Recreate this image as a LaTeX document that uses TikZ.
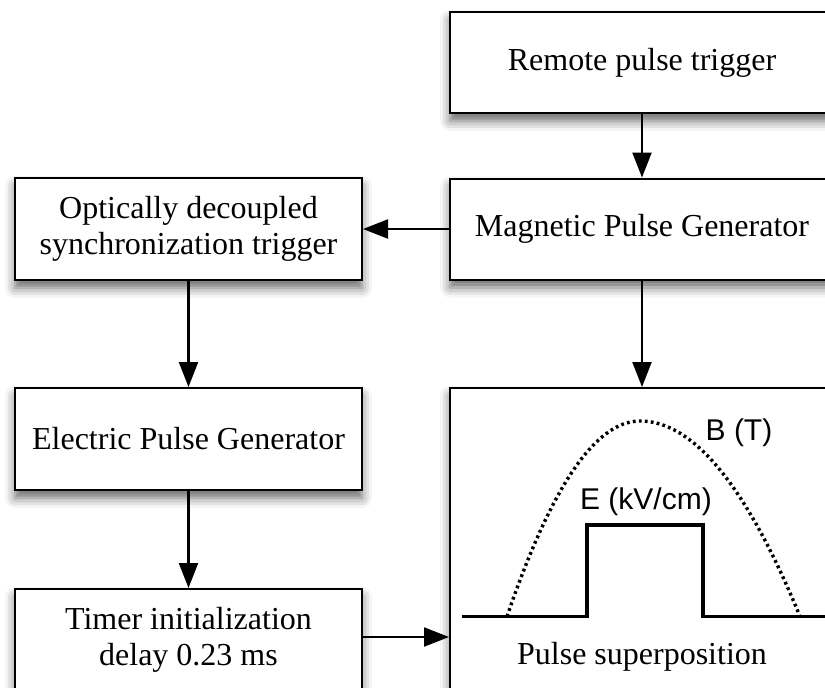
\documentclass[tikz,border=0pt]{standalone}
\usepackage{fontspec}
\setmainfont{Liberation Serif}
\setsansfont{Liberation Sans}
\usetikzlibrary{arrows.meta}
\usetikzlibrary{shadows.blur}
\tikzset{>={Triangle[length=12.5pt,width=9.5pt]}}
\colorlet{myline}{black}
\newcommand{\twolines}[2]{\raisebox{-2pt}{\begin{tabular}{@{}c@{}}#1\\#2\end{tabular}}}

\begin{document}
\begin{tikzpicture}[
    x=0.5pt,y=-0.5pt,
    block/.style={draw=myline,line width=1pt,fill=white,inner sep=0pt,align=center,
      font=\fontsize{16}{18}\selectfont,
      blur shadow={shadow xshift=0pt,shadow yshift=-4pt,shadow blur radius=5pt,shadow opacity=60}},
    wide/.style={block,minimum width=192pt,minimum height=50.5pt},
    narrow/.style={block,minimum width=173.5pt,minimum height=51pt},
    flow/.style={->,line width=1.1pt},
    pulse/.style={line width=1.6pt},
    field/.style={line width=1.7pt,dash pattern=on 1.4pt off 1.6pt},
    axislabel/.style={font=\sffamily\fontsize{15}{17}\selectfont,inner sep=0pt},
  ]
  \useasboundingbox (0,0) rectangle (825,687);
  
  \def\base{616.5}
  \def\peak{421}
  \def\xpk{640}
  
  % BLOCKS
  \node[wide] (remote) at (642,62.5) {Remote pulse trigger};
  \node[wide] (magnetic) at (642,229) {Magnetic Pulse Generator};
  \node[narrow] (optical) at (188.5,229) {\twolines{Optically decoupled}{synchronization trigger}};
  \node[narrow] (electric) at (188.5,439) {Electric Pulse Generator};
  \node[narrow] (timer) at (188.5,640) {\twolines{Timer initialization}{delay 0.23 ms}};
  \node[block,minimum width=192pt,minimum height=160pt] (superpos) at (642,548) {};
  
  % ARROWS
  \draw[flow] (remote) -- (magnetic);
  \draw[flow] (magnetic.west) -- (magnetic.west -| optical.east);
  \draw[flow] (optical) -- (electric);
  \draw[flow] (electric) -- (timer);
  \draw[flow] (magnetic) -- (superpos.north);
  \draw[flow] ([yshift=1.5pt]timer.east) -- ([yshift=1.5pt]timer.east -| superpos.west);
  
  % PULSES
  \draw[field,variable=\x,samples=40,smooth]
    plot[domain=507:\xpk] (\x,{\base-(\base-\peak)*(1-((\xpk-\x)/133)^2)}) --
    plot[domain=\xpk:800] (\x,{\base-(\base-\peak)*(1-((\x-\xpk)/160)^2)});
  \draw[pulse] (462,\base) -- (587,\base) -- (587,525) -- (703,525) -- (703,\base) -- (830,\base);
  \node[axislabel] (blabel) at (739,433) {B (T)};
  \node[axislabel] (elabel) at (646,502) {E (kV/cm)};
  \node[font=\fontsize{16}{18}\selectfont,inner sep=0pt] (suplabel) at (642,657) {Pulse superposition};
  
\end{tikzpicture}
\end{document}
